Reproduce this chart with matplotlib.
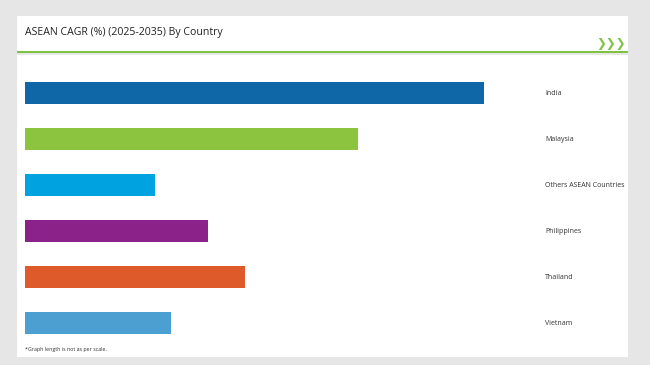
import matplotlib
matplotlib.use("Agg")
import matplotlib.pyplot as plt
from matplotlib.patches import Rectangle

countries = ["India", "Malaysia", "Others ASEAN Countries", "Philippines", "Thailand", "Vietnam"]
cagr = [6.9, 5.0, 1.95, 2.75, 3.3, 2.2]
colors = ["#0f67a8", "#8cc43f", "#00a3e0", "#8b2289", "#df5a2a", "#4b9fd1"]

W, H = 650, 365
fig = plt.figure(figsize=(W / 100, H / 100), dpi=100)
fig.patch.set_facecolor("#e6e6e6")


def fx(px):
    return px / W


def fy(py):
    return 1 - py / H


# white panels
fig.patches.append(Rectangle((fx(17), fy(51)), fx(628) - fx(17), fy(16) - fy(51),
                             transform=fig.transFigure, facecolor="white", edgecolor="none", zorder=-2))
fig.patches.append(Rectangle((fx(17), fy(357)), fx(628) - fx(17), fy(55) - fy(357),
                             transform=fig.transFigure, facecolor="white", edgecolor="none", zorder=-2))
# green rule
fig.patches.append(Rectangle((fx(17), fy(53)), fx(628) - fx(17), fy(51) - fy(53),
                             transform=fig.transFigure, facecolor="#7dc242", edgecolor="none", zorder=-1))

fig.text(fx(25), fy(32), "ASEAN CAGR (%) (2025-2035) By Country", fontsize=7.6, color="#222222",
         va="center", ha="left", family="Open Sans")
fig.text(fx(626), fy(43), "\u276F\u276F\u276F", fontsize=8.5, color="#7dc242", fontweight="bold",
         va="center", ha="right", family="DejaVu Sans")
fig.text(fx(25), fy(350), "*Graph length is not as per scale.", fontsize=3.8, color="#333333",
         va="center", ha="left", family="Open Sans")

ax = fig.add_axes([fx(25), fy(346), fx(520) - fx(25), fy(70) - fy(346)])
ax.set_facecolor("none")
y = list(range(len(countries)))
ax.barh(y, cagr, height=0.48, color=colors)
ax.set_xlim(0, 6.9 * 495 / 459)
ax.set_ylim(5.5, -0.5)
ax.axis("off")

label_x = (fx(545) - fx(25)) / (fx(520) - fx(25))
for i, c in enumerate(countries):
    ax.text(label_x, i + 0.02, c, transform=ax.get_yaxis_transform(),
            fontsize=5.0, color="#333333", va="center", ha="left", family="Open Sans",
            clip_on=False)

fig.savefig("out.png", dpi=100, facecolor=fig.get_facecolor())
